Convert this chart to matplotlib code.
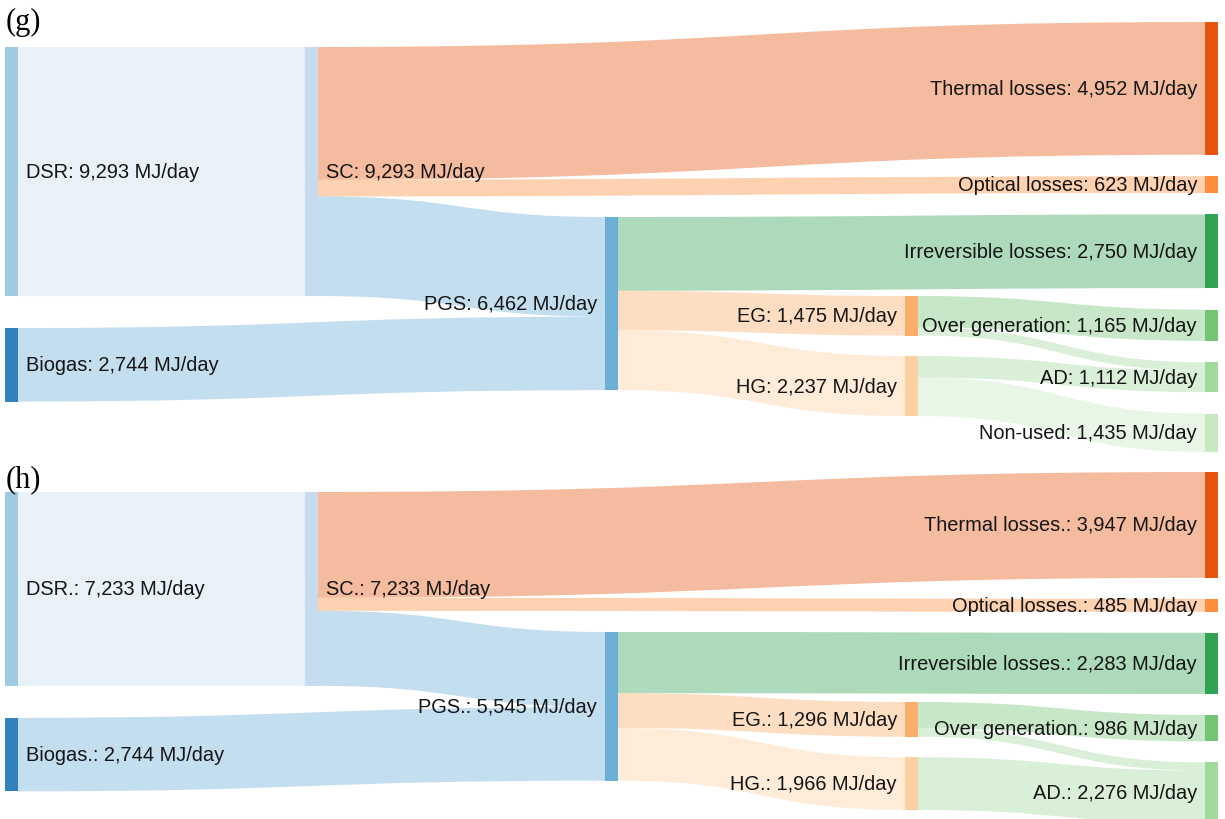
import matplotlib.pyplot as plt
from matplotlib.path import Path
from matplotlib.patches import PathPatch, Rectangle

plt.rcParams['font.family'] = ['Liberation Sans', 'DejaVu Sans']

# nodes (same for both cases, Non-used only in g)
names_g = ["DSR", "Biogas", "SC", "PGS", "Thermal losses", "Optical losses",
           "Irreversible losses", "EG", "HG", "Over generation", "AD", "Non-used"]
names_h = ["DSR", "Biogas", "SC", "PGS", "Thermal losses", "Optical losses",
           "Irreversible losses", "EG", "HG", "Over generation", "AD"]

# flows in MJ/day
src_g = ["DSR", "SC", "SC", "SC", "Biogas", "PGS", "PGS", "PGS", "EG", "EG", "HG", "HG"]
dst_g = ["SC", "Thermal losses", "Optical losses", "PGS", "PGS", "Irreversible losses",
         "EG", "HG", "Over generation", "AD", "AD", "Non-used"]
val_g = [9293, 4952, 623, 3718, 2744, 2750, 1475, 2237, 1165, 310, 802, 1435]

src_h = ["DSR", "SC", "SC", "SC", "Biogas", "PGS", "PGS", "PGS", "EG", "EG", "HG"]
dst_h = ["SC", "Thermal losses", "Optical losses", "PGS", "PGS", "Irreversible losses",
         "EG", "HG", "Over generation", "AD", "AD"]
val_h = [7233, 3947, 485, 2801, 2744, 2283, 1296, 1966, 986, 310, 1966]

column = {"DSR": 0, "Biogas": 0, "SC": 1, "PGS": 2, "EG": 3, "HG": 3,
          "Thermal losses": 4, "Optical losses": 4, "Irreversible losses": 4,
          "Over generation": 4, "AD": 4, "Non-used": 4}

colors = {"DSR": "#9ecae1", "Biogas": "#3182bd", "SC": "#c6dbef", "PGS": "#6baed6",
          "Thermal losses": "#e6550d", "Optical losses": "#fd8d3c",
          "Irreversible losses": "#31a354", "EG": "#fdae6b", "HG": "#fdd0a2",
          "Over generation": "#74c476", "AD": "#a1d99b", "Non-used": "#c7e9c0"}

K = 0.0268          # px per MJ/day
col_x = [5, 305, 605, 905, 1205]
node_w = 13


def draw_sankey(ax, names, src, dst, vals, col_top, col_gap, suffix=""):
    # node size = max of in/out flow
    inflow = {n: 0 for n in names}
    outflow = {n: 0 for n in names}
    for s, d, v in zip(src, dst, vals):
        outflow[s] += v
        inflow[d] += v
    value = {n: max(inflow[n], outflow[n]) for n in names}

    # stack nodes in each column
    top = {}
    cursor = dict(col_top)
    for n in names:
        c = column[n]
        top[n] = cursor[c]
        cursor[c] += value[n] * K + col_gap[c]

    # links
    out_off = {n: top[n] for n in names}
    in_off = {n: top[n] for n in names}
    for s, d, v in zip(src, dst, vals):
        h = v * K
        x0 = col_x[column[s]] + node_w
        x1 = col_x[column[d]]
        y0, y1 = out_off[s], in_off[d]
        xm = (x0 + x1) / 2
        verts = [(x0, y0), (xm, y0), (xm, y1), (x1, y1),
                 (x1, y1 + h), (xm, y1 + h), (xm, y0 + h), (x0, y0 + h), (x0, y0)]
        codes = [Path.MOVETO, Path.CURVE4, Path.CURVE4, Path.CURVE4,
                 Path.LINETO, Path.CURVE4, Path.CURVE4, Path.CURVE4, Path.CLOSEPOLY]
        ax.add_patch(PathPatch(Path(verts, codes), facecolor=colors[d], alpha=0.4,
                               edgecolor="none", zorder=1))
        out_off[s] += h
        in_off[d] += h

    # nodes + labels
    for n in names:
        c = column[n]
        h = value[n] * K
        ax.add_patch(Rectangle((col_x[c], top[n]), node_w, h, facecolor=colors[n],
                               edgecolor="none", zorder=2))
        label = "%s%s: %s MJ/day" % (n, suffix, format(value[n], ","))
        yc = top[n] + h / 2
        if c < 2:
            ax.text(col_x[c] + node_w + 8, yc, label, ha="left", va="center",
                    fontsize=14.4, color="#151515", zorder=3)
        else:
            ax.text(col_x[c] - 8, yc, label, ha="right", va="center",
                    fontsize=14.4, color="#151515", zorder=3)


fig = plt.figure(figsize=(12.25, 8.2), dpi=100)
ax = fig.add_axes([0, 0, 1, 1])
ax.set_xlim(0, 1225)
ax.set_ylim(820, 0)
ax.axis("off")

draw_sankey(ax, names_g, src_g, dst_g, val_g,
            col_top={0: 48, 1: 48, 2: 218, 3: 297, 4: 23},
            col_gap={0: 32, 1: 0, 2: 0, 3: 20.5, 4: 21.5})
draw_sankey(ax, names_h, src_h, dst_h, val_h,
            col_top={0: 493, 1: 493, 2: 633, 3: 703, 4: 473},
            col_gap={0: 32, 1: 0, 2: 0, 3: 20.5, 4: 21},
            suffix=".")

ax.text(6, 22, "(g)", fontsize=22, family="Liberation Serif", va="center", ha="left")
ax.text(6, 480, "(h)", fontsize=22, family="Liberation Serif", va="center", ha="left")

fig.savefig("out.png", dpi=100)
